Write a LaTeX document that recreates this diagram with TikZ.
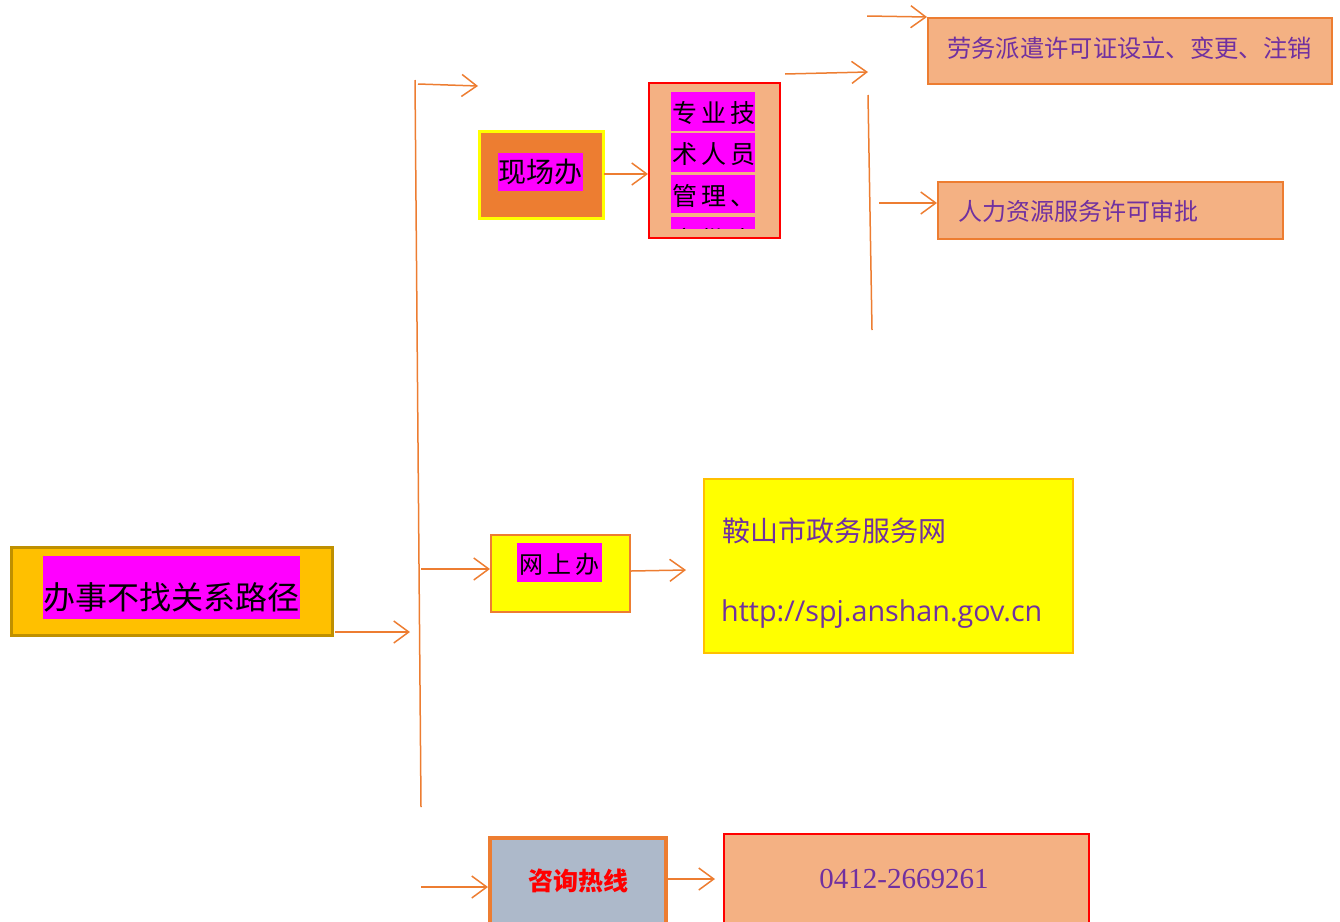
\documentclass[tikz,border=0pt]{standalone}
\usepackage{fontspec}
\setmainfont{Liberation Serif}
\newfontfamily\cjk{Noto Sans CJK SC}
\newfontfamily\cjklight{Noto Sans CJK SC}
\newfontfamily\urlfont{Open Sans}
\usetikzlibrary{arrows.meta}
\definecolor{orn}{HTML}{ED7D31}
\definecolor{peach}{HTML}{F4B183}
\definecolor{gold}{HTML}{FFC000}
\definecolor{goldline}{HTML}{BF9000}
\definecolor{purp}{HTML}{7030A0}
\definecolor{slate}{HTML}{ADB9CA}
\definecolor{mag}{HTML}{FF00FF}
\definecolor{yel}{HTML}{FFFF00}
\definecolor{rd}{HTML}{FF0000}
\tikzset{
  conn/.style={draw=orn, line width=1.5pt},
  arr/.style={conn, -{Straight Barb[length=15pt,width=22pt,line width=1.5pt]}},
}
\begin{document}
\begin{tikzpicture}[x=1pt,y=-1pt]
\useasboundingbox (0,0) rectangle (1340,921);
% main box
\node[draw=goldline, line width=2.5pt, fill=gold, anchor=north west, minimum width=321pt, minimum height=88pt, inner sep=0pt] (main) at (10,546) {};
\fill[mag] (43,556) rectangle (300,619);
\node[font=\cjk\fontsize{32}{32}\selectfont, inner sep=0pt] (mainT) at (171.5,597) {办事不找关系路径};
% trunk
\coordinate (t1) at (415,80);
\coordinate (t2) at (421,807);
\draw[conn] (t1) -- (t2);
\coordinate (m1) at (335,632);
\coordinate (m2) at (410,632);
\draw[arr] (m1) -- (m2);
% branch arrows
\coordinate (b1a) at (418,84);
\coordinate (b1b) at (478,86);
\draw[arr] (b1a) -- (b1b);
% 现场办
\node[draw=yel, line width=2.5pt, fill=orn, anchor=north west, minimum width=124pt, minimum height=87pt, inner sep=0pt] (xc) at (478,130) {};
\fill[mag] (498,153) rectangle (583,191);
\node[font=\cjk\fontsize{28}{28}\selectfont, inner sep=0pt] (xcT) at (540.5,172) {现场办};
% 专业技术人员 box
\node[draw=rd, line width=1.8pt, fill=peach, anchor=north west, minimum width=131pt, minimum height=155pt, inner sep=0pt] (zy) at (648,82) {};
\begin{scope}
\clip (650,84) rectangle (777,228);
\fill[mag] (671,92) rectangle (755,131);
\fill[mag] (671,133) rectangle (755,172);
\fill[mag] (671,175) rectangle (755,213);
\fill[mag] (671,217) rectangle (755,240);
\node[font=\cjklight\fontsize{25}{25}\selectfont, inner sep=0pt, anchor=west] (zy1) at (672,113) {专\,业\,技};
\node[font=\cjklight\fontsize{25}{25}\selectfont, inner sep=0pt, anchor=west] (zy2) at (672,154) {术\,人\,员};
\node[font=\cjklight\fontsize{25}{25}\selectfont, inner sep=0pt, anchor=west] (zy3) at (672,196) {管\,理\,、};
\node[font=\cjklight\fontsize{25}{25}\selectfont, inner sep=0pt, anchor=west] (zy4) at (672,240) {审\,批\,事};
\end{scope}
\coordinate (x1) at (604,174);
\draw[arr] (x1) -- (x1 -| zy.west);
% second level
\coordinate (s1) at (785,74);
\coordinate (s2) at (868,72);
\draw[arr] (s1) -- (s2);
\coordinate (v1) at (868,95);
\coordinate (v2) at (872,330);
\draw[conn] (v1) -- (v2);
% 劳务派遣
\node[draw=orn, line width=1.8pt, fill=peach, anchor=north west, minimum width=404pt, minimum height=66pt, inner sep=0pt] (lw) at (927,17) {};
\node[font=\cjk\fontsize{24.3}{24.3}\selectfont, text=purp, inner sep=0pt, anchor=west] (lwT) at (947,48) {劳务派遣许可证设立、变更、注销};
\coordinate (a1) at (867,16);
\draw[arr] (a1) -- (lw.north west);
% 人力资源
\node[draw=orn, line width=1.8pt, fill=peach, anchor=north west, minimum width=345pt, minimum height=57pt, inner sep=0pt] (rl) at (937,181) {};
\node[font=\cjk\fontsize{24}{24}\selectfont, text=purp, inner sep=0pt, anchor=west] (rlT) at (958,211) {人力资源服务许可审批};
\coordinate (a2) at (879,203);
\draw[arr] (a2) -- (a2 -| rl.west);
% 网上办
\node[draw=orn, line width=1.5pt, fill=yel, anchor=north west, minimum width=139pt, minimum height=77pt, inner sep=0pt] (ws) at (490,534) {};
\fill[mag] (517,543) rectangle (602,582);
\node[font=\cjklight\fontsize{24}{24}\selectfont, inner sep=0pt] (wsT) at (559.5,564) {网\,上\,办};
\coordinate (b2a) at (421,569);
\draw[arr] (b2a) -- (b2a -| ws.west);
% 政务服务网
\node[draw=gold, line width=1.5pt, fill=yel, anchor=north west, minimum width=369pt, minimum height=174pt, inner sep=0pt] (zw) at (703,478) {};
\node[font=\cjk\fontsize{28}{28}\selectfont, text=purp, inner sep=0pt, anchor=west] (zwT) at (722,531) {鞍山市政务服务网};
\node[font=\urlfont\fontsize{28.7}{28.7}\selectfont, text=purp, inner sep=0pt, anchor=west] (zwU) at (721,614) {http://spj.anshan.gov.cn};
\coordinate (w1) at (631,571);
\coordinate (w2) at (686,570);
\draw[arr] (w1) -- (w2);
% 咨询热线
\node[draw=orn, line width=3.5pt, fill=slate, anchor=north west, minimum width=176pt, minimum height=100pt, inner sep=0pt] (zx) at (488,836) {};
\node[font=\cjk\bfseries\fontsize{25}{25}\selectfont, text=rd, inner sep=0pt] (zxT) at (578,881) {咨询热线};
\coordinate (b3a) at (421,887);
\draw[arr] (b3a) -- (b3a -| zx.west);
% phone
\node[draw=rd, line width=1.5pt, fill=peach, anchor=north west, minimum width=365pt, minimum height=100pt, inner sep=0pt] (ph) at (723,833) {};
\node[font=\fontsize{29}{29}\selectfont, text=purp, inner sep=0pt] (phT) at (904,879) {0412-2669261};
\coordinate (p1) at (667,879);
\coordinate (p2) at (715,879);
\draw[arr] (p1) -- (p2);
\end{tikzpicture}
\end{document}
